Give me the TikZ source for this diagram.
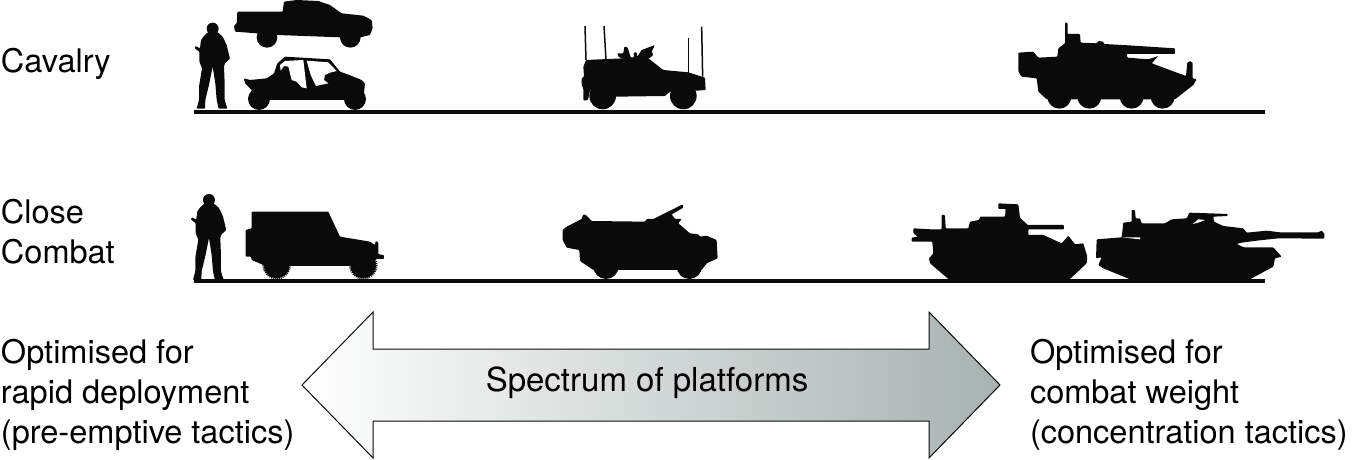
\documentclass[tikz,border=0pt]{standalone}
\usepackage{fontspec}
\setmainfont{TeX Gyre Heros}
\definecolor{ink}{HTML}{0A0A0A}
\definecolor{steel}{HTML}{A7B3B1}
\newcommand{\soldierbody}{%
  \fill[ink] (68,86) circle[radius=18];
  \fill[sil] (42,108) -- (55,96) -- (82,96) -- (98,110) -- (110,135) -- (116,160) -- (120,176) -- (105,190) -- (102,200) -- (104,250) -- (104,300) -- (112,326) -- (86,326) -- (80,300) -- (76,250) -- (68,200) -- (58,250) -- (46,300) -- (45,326) -- (20,326) -- (27,300) -- (27,260) -- (36,205) -- (28,185) -- (28,155) -- (14,145) -- (16,138) -- (30,145) -- (33,120) -- cycle;}
\tikzset{
  sil/.style={fill=ink,draw=none,rounded corners=0.8pt},
  zoomed/.style={shift={#1},x=0.3333pt,y=-0.3333pt},
  ground/.style={draw=ink,line width=4pt},
  mast/.style={draw=ink,line width=1.5pt},
  tread/.style={draw=ink,line width=1.5pt,dash pattern=on 1pt off 1pt},
  label/.style={inner sep=0pt,outer sep=0pt,align=left,anchor=north west,font=\fontsize{32.5}{40}\selectfont},
  spectrum/.style={draw=ink,line width=1pt,left color=white,right color=steel}
}
\begin{document}
\begin{tikzpicture}[x=1pt,y=-1pt]
\useasboundingbox (0,0) rectangle (1355,460);

% ground lines
\coordinate (g1a) at (194,112); \coordinate (g1b) at (1265,112);
\coordinate (g2a) at (194,281); \coordinate (g2b) at (1265,281);
\draw[ground] (g1a) -- (g1b);
\draw[ground] (g2a) -- (g2b);

% soldiers
\begin{scope}[zoomed={(190,0)}]
  \soldierbody
\end{scope}
\begin{scope}[zoomed={(186.3,171.3)}]
  \soldierbody
\end{scope}

% pickup and buggy
\begin{scope}[zoomed={(190,0)}]
  \fill[sil] (282,5) -- (320,0) -- (385,3) -- (420,15) -- (455,40) -- (520,47) -- (545,60) -- (548,85) -- (540,105) -- (512,112) -- (450,112) -- (262,105) -- (200,100) -- (135,95) -- (132,78) -- (140,70) -- (142,35) -- (278,35) -- cycle;
  \fill[ink] (231,112) circle[radius=31];
  \fill[ink] (481,112) circle[radius=31];
  \fill[sil] (162,235) -- (180,240) -- (230,235) -- (252,220) -- (262,190) -- (285,170) -- (420,178) -- (450,215) -- (470,222) -- (515,240) -- (525,250) -- (522,280) -- (495,300) -- (207,300) -- (180,265) -- (165,250) -- cycle;
  \fill[ink] (207,297) circle[radius=33];
  \fill[ink] (495,297) circle[radius=33];
  \fill[white] (285,183) -- (340,180) -- (350,265) -- (335,262) -- (320,245) -- (305,240) -- (295,200) -- (282,198) -- (272,212) -- (270,195) -- cycle;
  \fill[white] (350,182) -- (415,187) -- (440,213) -- (420,218) -- (405,225) -- (402,240) -- (415,250) -- (378,258) -- (362,225) -- cycle;
\end{scope}

% armoured car with masts
\begin{scope}[zoomed={(560,10)}]
  \draw[mast] (75,48) -- (78,150);
  \draw[mast] (132,48) -- (138,150);
  \draw[mast] (425,50) -- (428,200);
  \draw[mast] (386,85) -- (386,190);
  \fill[sil] (172,130) -- (190,130) -- (193,110) -- (203,112) -- (212,142) -- (222,142) -- (222,127) -- (230,127) -- (232,140) -- (245,120) -- (285,105) -- (275,125) -- (280,135) -- (265,147) -- (190,147) -- (175,140) -- cycle;
  \fill[sil] (70,170) -- (78,150) -- (190,145) -- (265,145) -- (310,180) -- (385,187) -- (435,203) -- (437,240) -- (410,242) -- (330,245) -- (315,258) -- (170,260) -- (90,240) -- (84,270) -- (70,272) -- (70,235) -- (65,225) -- (65,205) -- (72,200) -- cycle;
  \fill[ink] (128,258) circle[radius=40];
  \fill[ink] (370,258) circle[radius=40];
\end{scope}

% eight-wheeled gun vehicle
\begin{scope}[zoomed={(1000,10)}]
  \fill[sil] (55,128) -- (100,125) -- (115,143) -- (172,140) -- (175,115) -- (195,100) -- (195,38) -- (203,38) -- (203,72) -- (240,72) -- (242,98) -- (290,100) -- (295,93) -- (310,95) -- (312,102) -- (385,106) -- (525,115) -- (525,132) -- (380,132) -- (382,143) -- (445,148) -- (475,138) -- (455,160) -- (558,198) -- (562,158) -- (570,153) -- (578,158) -- (578,205) -- (590,208) -- (580,225) -- (525,268) -- (140,268) -- (115,245) -- (110,205) -- (65,200) -- (55,185) -- cycle;
  \foreach \wx in {178,268,395,488} \fill[ink] (\wx,260) circle[radius=36];
\end{scope}

% jeep
\begin{scope}[zoomed={(185,185)}]
  \fill[sil] (200,80) -- (430,80) -- (465,155) -- (555,170) -- (570,180) -- (572,168) -- (580,172) -- (580,208) -- (597,210) -- (597,222) -- (575,222) -- (490,243) -- (320,243) -- (235,240) -- (200,225) -- (198,215) -- (182,215) -- (182,135) -- (200,130) -- cycle;
  \fill[ink] (275,241) circle[radius=39];
  \fill[ink] (535,241) circle[radius=39];
  \draw[tread] (275,241) circle[radius=40.5];
  \draw[tread] (535,241) circle[radius=40.5];
\end{scope}

% protected vehicle
\begin{scope}[zoomed={(550,195)}]
  \fill[sil] (38,105) -- (50,95) -- (95,72) -- (100,58) -- (108,60) -- (125,78) -- (285,80) -- (290,72) -- (310,72) -- (398,28) -- (400,38) -- (365,58) -- (375,72) -- (395,72) -- (385,85) -- (420,115) -- (445,118) -- (450,125) -- (470,122) -- (500,135) -- (503,190) -- (470,205) -- (455,225) -- (207,225) -- (130,225) -- (90,198) -- (88,165) -- (50,158) -- (38,135) -- cycle;
  \fill[ink] (168,214) circle[radius=38];
  \fill[ink] (418,214) circle[radius=38];
\end{scope}

% IFV
\begin{scope}[zoomed={(905,195)}]
  \fill[sil] (25,100) -- (78,103) -- (110,103) -- (110,60) -- (120,60) -- (122,100) -- (190,100) -- (195,80) -- (222,75) -- (225,65) -- (300,65) -- (302,42) -- (280,42) -- (280,25) -- (340,28) -- (345,68) -- (368,90) -- (477,90) -- (477,103) -- (370,103) -- (370,120) -- (415,120) -- (470,145) -- (490,122) -- (510,148) -- (535,145) -- (547,185) -- (545,205) -- (495,252) -- (130,252) -- (75,205) -- (72,190) -- (85,175) -- (82,140) -- (20,140) -- (20,128) -- (38,125) -- (25,115) -- cycle;
\end{scope}

% main battle tank
\begin{scope}[zoomed={(1090,200)}]
  \fill[sil] (20,118) -- (95,112) -- (100,68) -- (125,65) -- (125,30) -- (135,30) -- (137,55) -- (150,55) -- (155,70) -- (225,70) -- (245,58) -- (290,55) -- (298,38) -- (360,40) -- (413,42) -- (413,48) -- (370,50) -- (372,65) -- (400,78) -- (460,85) -- (470,98) -- (530,92) -- (570,97) -- (685,97) -- (695,92) -- (703,100) -- (703,116) -- (565,115) -- (500,122) -- (455,128) -- (440,132) -- (462,142) -- (550,142) -- (575,170) -- (555,175) -- (550,200) -- (480,238) -- (120,238) -- (40,205) -- (25,195) -- (35,172) -- (18,175) -- cycle;
  \fill[white] (95,112) -- (150,112) -- (150,118) -- cycle;
  \fill[white] (308,72) -- (325,58) -- (345,60) -- (325,68) -- cycle;
\end{scope}

% spectrum arrow
\draw[spectrum] (302,385) -- (373,312) -- (373,349) -- (929,349) -- (929,312) -- (1000,385) -- (929,458) -- (929,421) -- (373,421) -- (373,458) -- cycle;
\node[inner sep=0pt,font=\fontsize{33}{40}\selectfont] (spec) at (647,383) {Spectrum of platforms};

% labels
\node[label] (cav) at (1,48.5) {Cavalry};
\node[label] (close) at (1,199) {Close\\Combat};
\node[label] (left) at (1,339) {Optimised for\\rapid deployment\\(pre-emptive tactics)};
\node[label] (right) at (1030,339) {Optimised for\\combat weight\\(concentration tactics)};
\end{tikzpicture}
\end{document}
